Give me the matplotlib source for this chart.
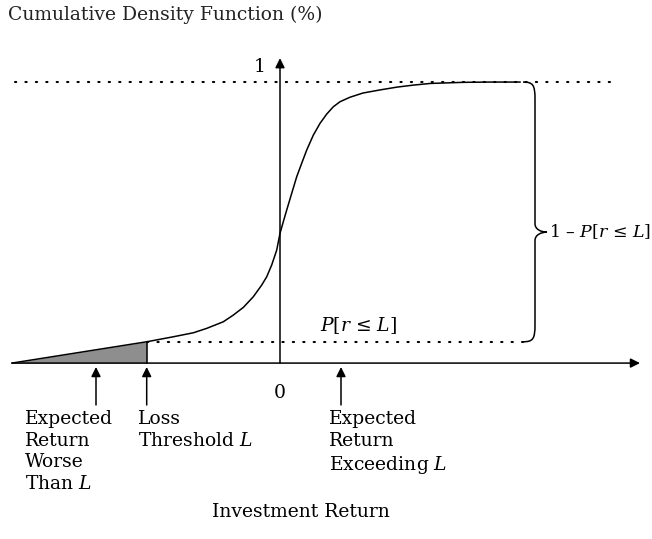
# CDF diagram: loss threshold and shortfall probability

import numpy as np
import matplotlib.pyplot as plt
from matplotlib.path import Path
from matplotlib.patches import PathPatch

plt.rcParams['font.family'] = 'DejaVu Serif'
plt.rcParams['mathtext.fontset'] = 'dejavuserif'
fontsize = 13.5

# Curve (return, cumulative probability)

curve_x = [-2.68, -1.333, -1.067, -0.867, -0.733, -0.567, -0.467, -0.367,
           -0.267, -0.183, -0.133, -0.083, -0.033, 0.0, 0.033, 0.067, 0.117,
           0.167, 0.217, 0.267, 0.333, 0.40, 0.467, 0.533, 0.60, 0.70, 0.83,
           1.00, 1.17, 1.33, 1.50, 1.83, 2.10, 2.40]
curve_y = [0.0, 0.0758, 0.0936, 0.1078, 0.1235, 0.147, 0.1708, 0.198,
           0.236, 0.2776, 0.307, 0.349, 0.402, 0.4616, 0.503, 0.5445, 0.604,
           0.663, 0.711, 0.758, 0.811, 0.853, 0.886, 0.912, 0.930, 0.946, 0.961,
           0.972, 0.982, 0.989, 0.995, 0.999, 1.0, 1.0]

loss_threshold = -1.333
p_shortfall = 0.0758
worse_than_l = -1.84
exceeding_l = 0.61

# Figure

fig = plt.figure("CDF", figsize=(6.52, 5.39), dpi=100)
ax = fig.add_axes([0, 0, 1, 1])
ax.set_xlim(-2.80, 3.72)
ax.set_ylim(-0.626, 1.292)
ax.axis('off')

arrow = dict(arrowstyle='-|>', lw=1.1, color='black', mutation_scale=14,
             shrinkA=0, shrinkB=0)

# Axes with arrow heads
ax.annotate('', xy=(3.60, 0), xytext=(-2.68, 0), arrowprops=arrow)
ax.annotate('', xy=(0, 1.085), xytext=(0, 0), arrowprops=arrow)

# Curve and shaded tail
cx = np.array(curve_x)
cy = np.array(curve_y)
ax.plot(cx, cy, color='black', lw=1.1, solid_joinstyle='round')
tail = cx <= loss_threshold
ax.fill_between(cx[tail], 0, cy[tail], color='#8e8e8e', lw=0)
ax.plot([loss_threshold, loss_threshold], [0, p_shortfall], color='black', lw=1.1)

# Dotted reference levels
dots = dict(color='black', lw=1.5, linestyle=(0, (0.6, 4.4)), dash_capstyle='round')
ax.plot([-2.65, 3.37], [1, 1], **dots)
ax.plot([loss_threshold, 2.43], [p_shortfall, p_shortfall], **dots)

# Brace between the two levels
bx0, bx1, bx2 = 2.43, 2.55, 2.67
ytop, ybot, ytip = 1.0, p_shortfall, 0.466
verts = [(bx0, ytop), (bx1 - 0.02, ytop), (bx1, ytop - 0.01), (bx1, ytop - 0.06),
         (bx1, ytip + 0.03),
         (bx1, ytip + 0.01), (bx2 - 0.06, ytip), (bx2, ytip),
         (bx2 - 0.06, ytip), (bx1, ytip - 0.01), (bx1, ytip - 0.03),
         (bx1, ybot + 0.06),
         (bx1, ybot + 0.01), (bx1 - 0.02, ybot), (bx0, ybot)]
codes = [Path.MOVETO, Path.CURVE4, Path.CURVE4, Path.CURVE4,
         Path.LINETO,
         Path.CURVE4, Path.CURVE4, Path.CURVE4,
         Path.CURVE4, Path.CURVE4, Path.CURVE4,
         Path.LINETO,
         Path.CURVE4, Path.CURVE4, Path.CURVE4]
ax.add_patch(PathPatch(Path(verts, codes), fill=False, lw=1.1, color='black'))

# Small pointer arrows below the axis
for xp in (worse_than_l, loss_threshold, exceeding_l):
    ax.annotate('', xy=(xp, -0.014), xytext=(xp, -0.149), arrowprops=arrow)

# Text
ax.text(-2.72, 1.238, 'Cumulative Density Function (%)', fontsize=fontsize,
        ha='left', va='center', color='#222222')
ax.text(-0.20, 1.053, '1', fontsize=fontsize, ha='center', va='center')
ax.text(0.0, -0.107, '0', fontsize=fontsize, ha='center', va='center')
ax.text(2.69, ytip, '1 – $P$[$r$ ≤ $L$]', fontsize=12.5, ha='left', va='center')
ax.text(0.40, 0.135, '$P$[$r$ ≤ $L$]', fontsize=fontsize, ha='left', va='center')

ax.text(-2.55, -0.167, 'Expected\nReturn\nWorse\nThan $L$', fontsize=fontsize,
        ha='left', va='top', linespacing=1.25)
ax.text(-1.42, -0.167, 'Loss\nThreshold $L$', fontsize=fontsize,
        ha='left', va='top', linespacing=1.25)
ax.text(0.49, -0.167, 'Expected\nReturn\nExceeding $L$', fontsize=fontsize,
        ha='left', va='top', linespacing=1.25)
ax.text(0.21, -0.530, 'Investment Return', fontsize=fontsize, ha='center', va='center')

plt.savefig('out.png', dpi=100)
